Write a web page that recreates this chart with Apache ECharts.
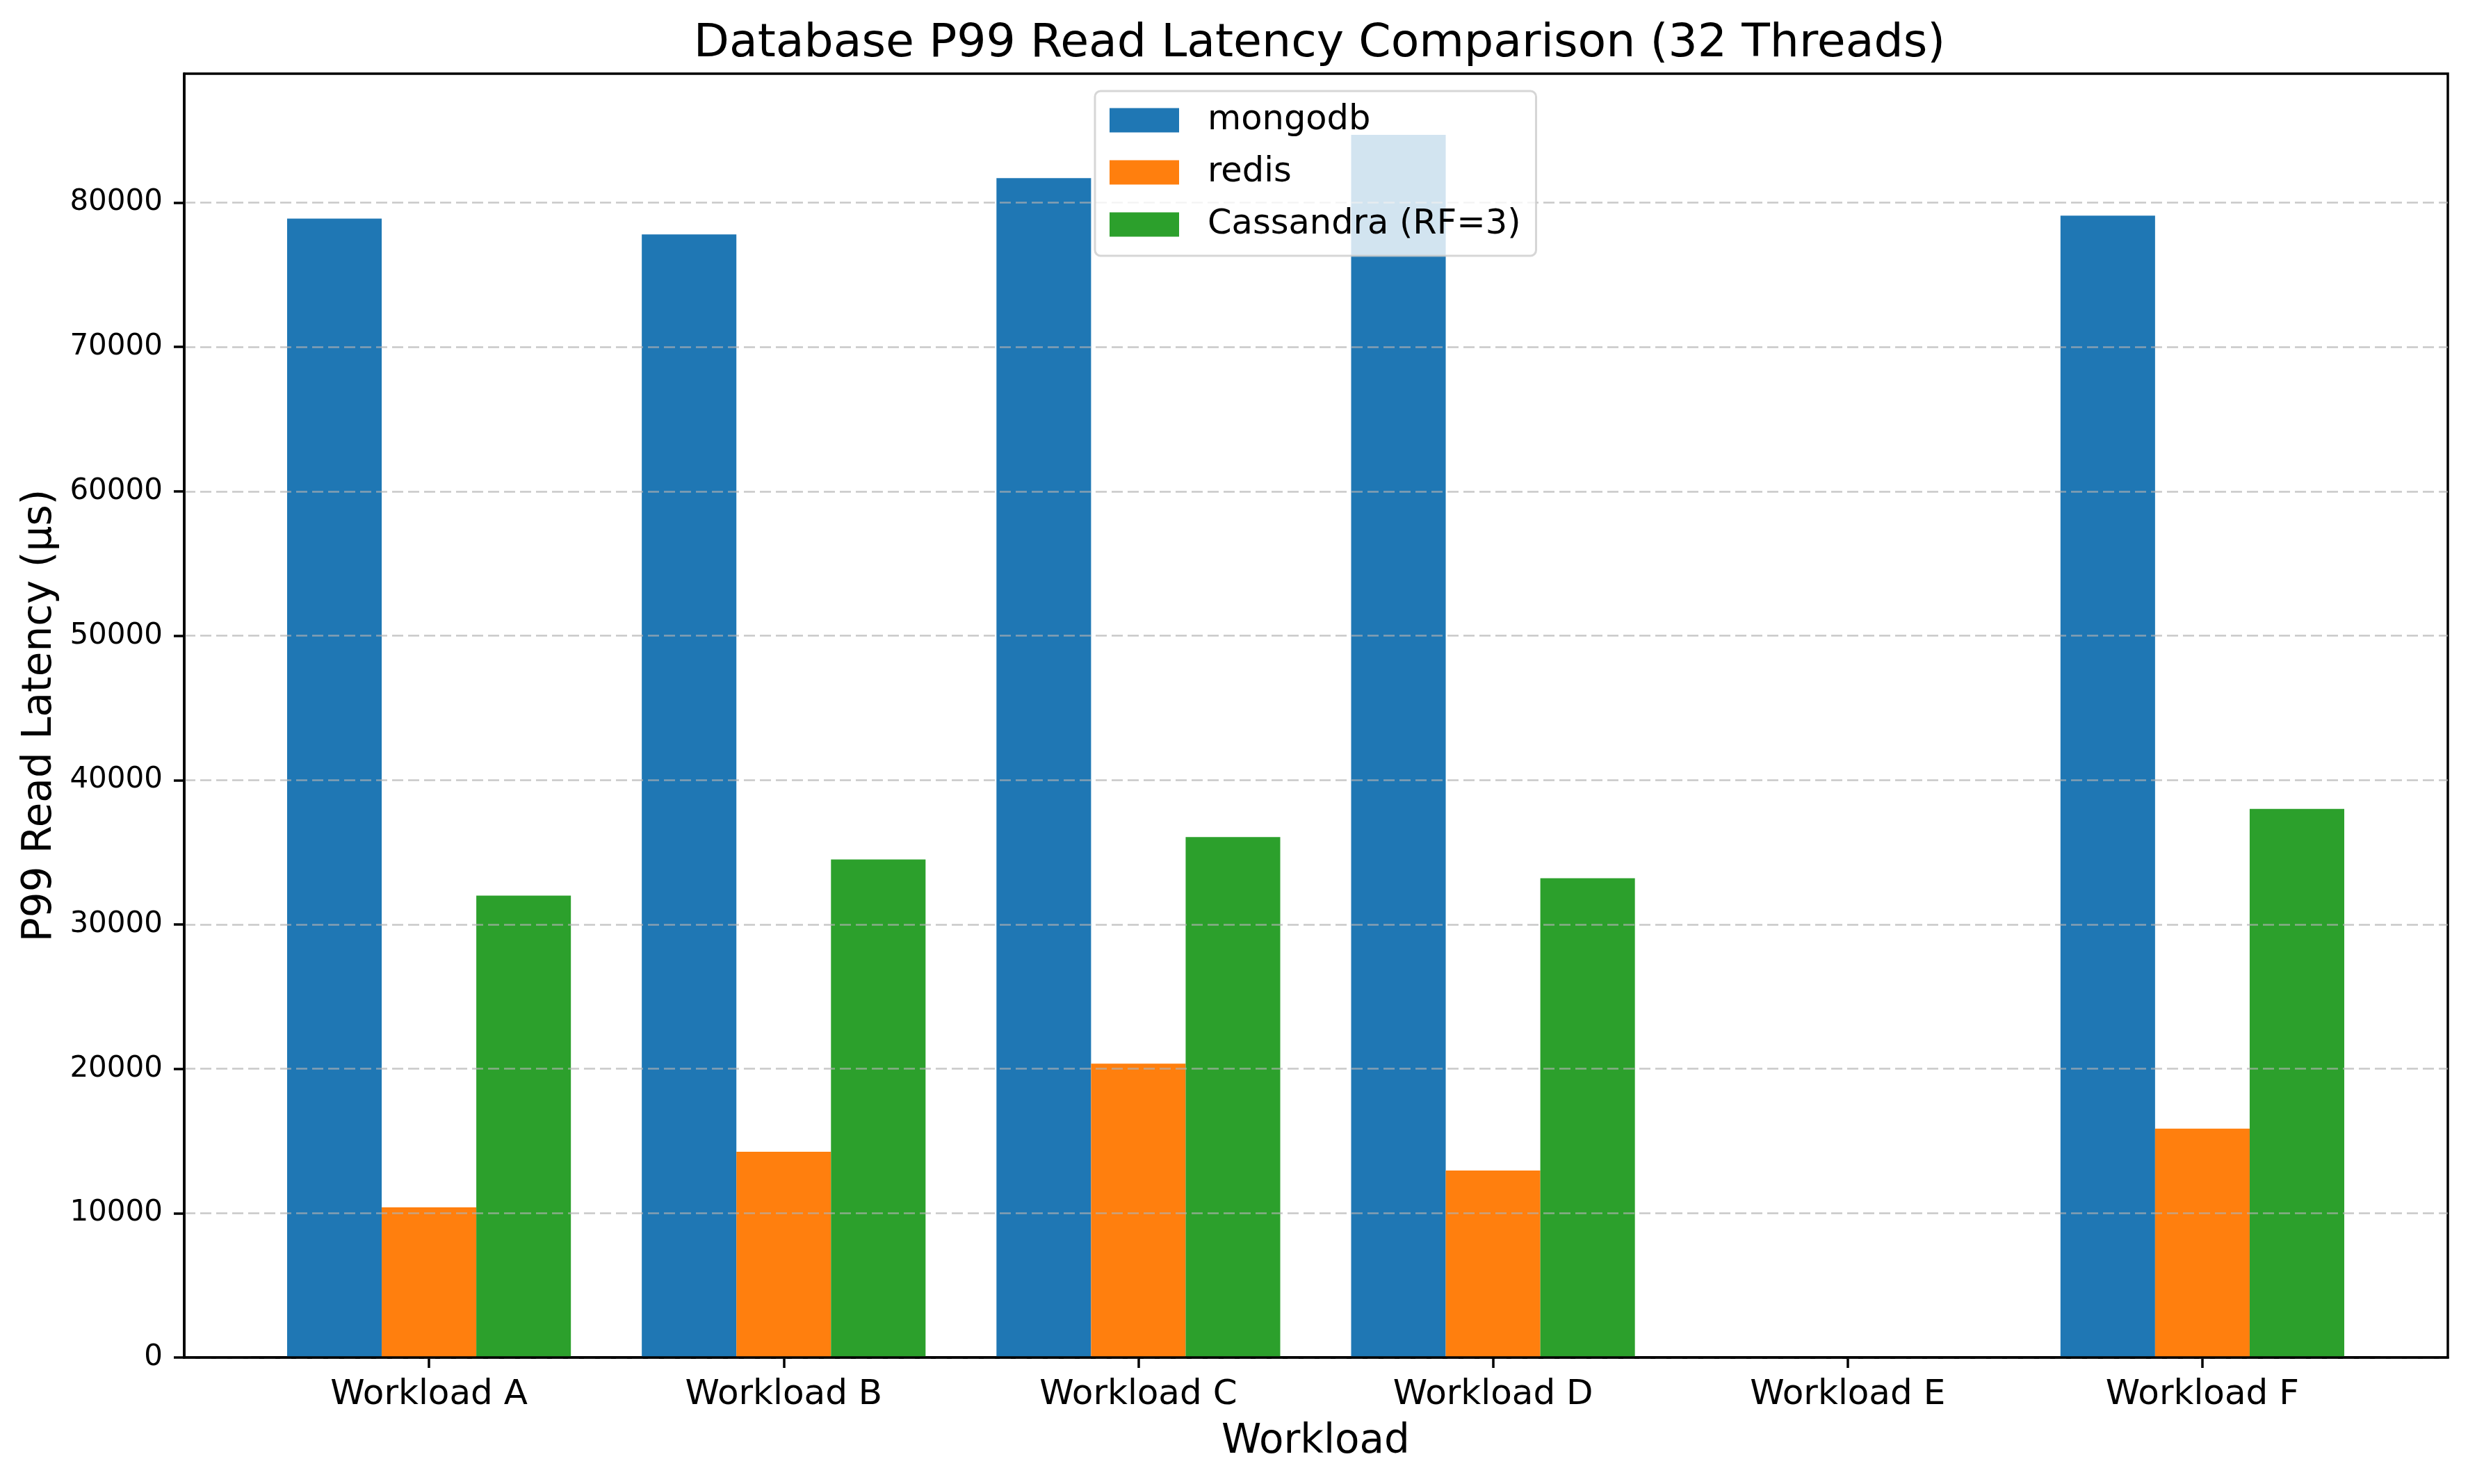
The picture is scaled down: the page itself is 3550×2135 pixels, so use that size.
<!DOCTYPE html>
<html>
<head>
<meta charset="utf-8">
<script src="https://cdn.jsdelivr.net/npm/echarts@6/dist/echarts.min.js"></script>
<style>
html,body{margin:0;padding:0;background:#fff;}
#chart{width:3550px;height:2135px;}
</style>
</head>
<body>
<div id="chart"></div>
<script>
const categories = ['Workload A', 'Workload B', 'Workload C', 'Workload D', 'Workload E', 'Workload F'];
const mongodb = [78900, 77800, 81700, 84700, null, 79100];
const redis = [10400, 14250, 20350, 12950, null, 15850];
const cassandra = [32000, 34500, 36050, 33200, null, 38000];
const yTicks = [0, 10000, 20000, 30000, 40000, 50000, 60000, 70000, 80000];
const yMax = 88935;

const FONT = 'DejaVu Sans';
const chart = echarts.init(document.getElementById('chart'), null, {renderer: 'canvas'});

const gridLine = {
  show: true,
  lineStyle: {color: 'rgba(176,176,176,0.7)', width: 2.5, type: [16, 7]}
};

chart.setOption({
  animation: false,
  backgroundColor: '#ffffff',
  title: {
    text: 'Database P99 Read Latency Comparison (32 Threads)',
    left: 1893, top: 25, textAlign: 'center',
    textStyle: {fontFamily: FONT, fontSize: 66.5, fontWeight: 'normal', color: '#000'}
  },
  legend: {
    orient: 'vertical',
    left: 1575, top: 131,
    padding: [17, 22, 20, 21],
    itemWidth: 100, itemHeight: 35, itemGap: 25,
    icon: 'rect',
    backgroundColor: 'rgba(255,255,255,0.8)',
    borderColor: 'rgba(204,204,204,0.8)', borderWidth: 3, borderRadius: 8,
    textStyle: {fontFamily: FONT, fontSize: 49.5, color: '#000', lineHeight: 48, padding: [0, 0, 0, 36]},
    data: ['mongodb', 'redis', 'Cassandra (RF=3)'],
    z: 10
  },
  grid: [
    {left: 265, right: 29, top: 106, bottom: 182, show: true, borderColor: '#000', borderWidth: 3.5, backgroundColor: 'transparent'},
    {left: 362, right: 127, top: 106, bottom: 182}
  ],
  xAxis: [
    {
      type: 'value', gridIndex: 0, min: 0, max: 1, z: 3,
      axisLine: {show: true, lineStyle: {color: '#000', width: 3.5}},
      axisTick: {show: false}, axisLabel: {show: false}, splitLine: {show: false}
    },
    {
      type: 'category', gridIndex: 1, data: categories,
      name: 'Workload', nameLocation: 'middle', nameGap: 93,
      nameTextStyle: {fontFamily: FONT, fontSize: 58, color: '#000'},
      axisLine: {show: true, lineStyle: {color: '#000', width: 3.5}},
      axisTick: {show: true, alignWithLabel: true, length: 15, lineStyle: {color: '#000', width: 3.5}},
      axisLabel: {fontFamily: FONT, fontSize: 50, color: '#000', margin: 29},
      splitLine: {show: false}
    }
  ],
  yAxis: [
    {
      type: 'value', gridIndex: 0, min: 0, max: yMax, z: 3,
      name: 'P99 Read Latency (μs)', nameLocation: 'middle', nameGap: 178,
      nameTextStyle: {fontFamily: FONT, fontSize: 58, color: '#000'},
      axisLine: {show: true, lineStyle: {color: '#000', width: 3.5}},
      axisTick: {show: true, length: 15, customValues: yTicks, lineStyle: {color: '#000', width: 3.5}},
      axisLabel: {fontFamily: FONT, fontSize: 42, color: '#000', margin: 31, customValues: yTicks,
                  formatter: v => String(v)},
      splitLine: gridLine
    },
    {
      type: 'value', gridIndex: 1, min: 0, max: yMax, show: false,
      splitLine: {show: false}
    }
  ],
  series: [
    {name: 'mongodb', type: 'bar', xAxisIndex: 1, yAxisIndex: 1, data: mongodb,
     barWidth: '26.67%', barGap: '0%', itemStyle: {color: '#1f77b4'}},
    {name: 'redis', type: 'bar', xAxisIndex: 1, yAxisIndex: 1, data: redis,
     barWidth: '26.67%', barGap: '0%', itemStyle: {color: '#ff7f0e'}},
    {name: 'Cassandra (RF=3)', type: 'bar', xAxisIndex: 1, yAxisIndex: 1, data: cassandra,
     barWidth: '26.67%', barGap: '0%', itemStyle: {color: '#2ca02c'}}
  ]
});
</script>
</body>
</html>
